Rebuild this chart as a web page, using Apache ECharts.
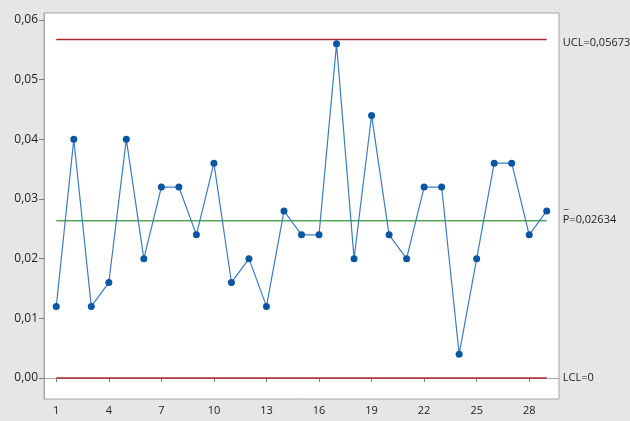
<!DOCTYPE html>
<html>
<head>
<meta charset="utf-8">
<script src="https://cdn.jsdelivr.net/npm/echarts@6/dist/echarts.min.js"></script>
<style>
  html, body { margin: 0; padding: 0; background: #e6e6e6; }
  #chart { width: 630px; height: 421px; }
</style>
</head>
<body>
<div id="chart"></div>
<script>
// Proportion defective per sample (p chart)
const samples = [1,2,3,4,5,6,7,8,9,10,11,12,13,14,15,16,17,18,19,20,21,22,23,24,25,26,27,28,29];
const proportions = [0.012,0.040,0.012,0.016,0.040,0.020,0.032,0.032,0.024,0.036,0.016,0.020,0.012,0.028,0.024,0.024,0.056,0.020,0.044,0.024,0.020,0.032,0.032,0.004,0.020,0.036,0.036,0.024,0.028];
const xTicks = [1,4,7,10,13,16,19,22,25,28];
const yTicks = [0,0.01,0.02,0.03,0.04,0.05,0.06];
const UCL = 0.05673;
const PBAR = 0.02634;
const LCL = 0;

const fmt = v => v.toFixed(2).replace('.', ',');
const font = '"Open Sans", "Noto Sans", sans-serif';
const axisGray = '#a6a6a6';

const chart = echarts.init(document.getElementById('chart'), null, { renderer: 'canvas' });
const first = samples[0], last = samples[samples.length - 1];

chart.setOption({
  backgroundColor: '#e6e6e6',
  animation: false,
  grid: {
    left: 44, top: 13, right: 71, bottom: 22,
    show: true, backgroundColor: '#ffffff', borderColor: axisGray, borderWidth: 1
  },
  xAxis: {
    type: 'value', min: 0.3, max: 29.7,
    axisLine: { show: true, lineStyle: { color: axisGray } },
    axisTick: { show: true, length: 4, customValues: xTicks, lineStyle: { color: '#808080' } },
    axisLabel: { customValues: xTicks, color: '#222', fontFamily: font, fontSize: 11, margin: 6 },
    splitLine: { show: false }
  },
  yAxis: {
    type: 'value', min: -0.00352, max: 0.06117,
    axisLine: { show: true, lineStyle: { color: axisGray } },
    axisTick: { show: true, length: 5, customValues: yTicks, lineStyle: { color: '#808080' } },
    axisLabel: { customValues: yTicks, formatter: fmt, color: '#222', fontFamily: font, fontSize: 12, margin: 6 },
    splitLine: { show: false }
  },
  series: [
    {
      type: 'line', silent: true, symbol: 'none',
      data: [[first, UCL], [last, UCL]],
      lineStyle: { color: '#a8282b', width: 1.3 }
    },
    {
      type: 'line', silent: true, symbol: 'none',
      data: [[first, LCL], [last, LCL]],
      lineStyle: { color: '#a8282b', width: 1.3 }
    },
    {
      type: 'line', silent: true, symbol: 'none',
      data: [[first, PBAR], [last, PBAR]],
      lineStyle: { color: '#5aa55e', width: 1.5 }
    },
    {
      type: 'line',
      data: samples.map((s, i) => [s, proportions[i]]),
      symbol: 'circle', symbolSize: 7,
      itemStyle: { color: '#0b55a5' },
      lineStyle: { color: '#3c7cc4', width: 1.2 }
    }
  ]
});

// Control-limit labels placed to the right of the plot
const px = v => chart.convertToPixel({ gridIndex: 0 }, [last, v]);
const labelX = px(UCL)[0] + 16;
const txt = (x, y, s) => ({
  type: 'text', x: x, y: y,
  style: { text: s, fill: '#222', font: '11px ' + font, textVerticalAlign: 'middle' }
});
chart.setOption({
  graphic: [
    txt(labelX, px(UCL)[1] + 3, 'UCL=0,05673'),
    txt(labelX + 1, px(PBAR)[1] - 16, '_'),
    txt(labelX, px(PBAR)[1] - 1, 'P=0,02634'),
    txt(labelX, px(LCL)[1], 'LCL=0')
  ]
});
</script>
</body>
</html>
